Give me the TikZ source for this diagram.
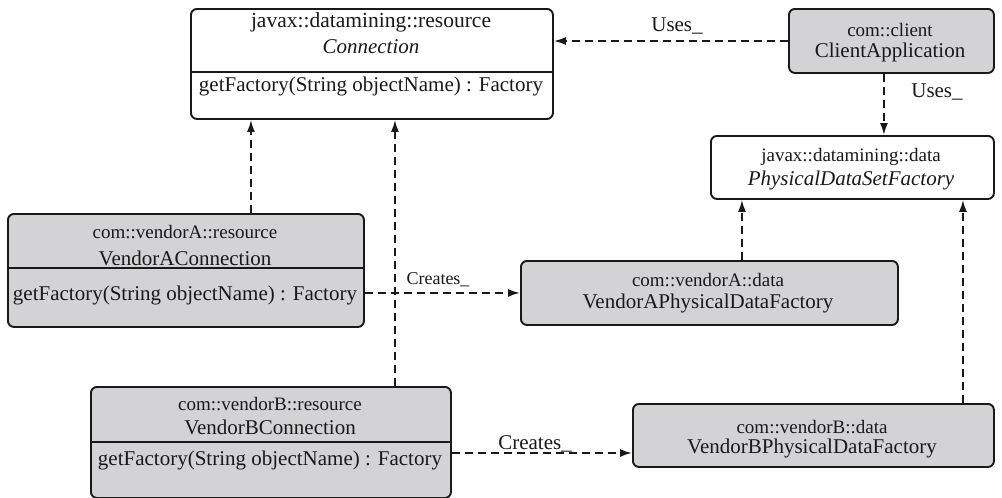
\documentclass[tikz,border=0pt]{standalone}
\usepackage{fontspec}
\setmainfont{Liberation Serif}
\usetikzlibrary{arrows.meta,calc}
\definecolor{boxgray}{RGB}{211,211,213}
\definecolor{edge}{RGB}{25,25,25}
\begin{document}
\begin{tikzpicture}[x=1pt,y=-1pt,
  cls/.style={draw=edge, line width=1.9pt, rounded corners=6pt, inner sep=0pt, anchor=north west},
  grayfill/.style={fill=boxgray},
  whitefill/.style={fill=white},
  pkg/.style={inner sep=0pt, font=\fontsize{19}{22}\selectfont, text=edge},
  big/.style={inner sep=0pt, font=\fontsize{21}{24}\selectfont, text=edge},
  lbl/.style={inner sep=0pt, font=\fontsize{21}{24}\selectfont, text=edge},
  divline/.style={draw=edge, line width=1.9pt},
  dep/.style={draw=edge, line width=1.8pt, dash pattern=on 8pt off 5pt, -{Latex[length=12pt,width=8pt]}}
]
\useasboundingbox (0,0) rectangle (1002,498);

% boxes
\node[cls,whitefill,minimum width=362pt,minimum height=110pt] (conn) at (190,8) {};
\node[cls,grayfill,minimum width=205pt,minimum height=64pt] (client) at (788,8) {};
\node[cls,whitefill,minimum width=283pt,minimum height=63pt] (pdsf) at (710,135) {};
\node[cls,grayfill,minimum width=356pt,minimum height=113pt] (va) at (7,213) {};
\node[cls,grayfill,minimum width=377pt,minimum height=64pt] (vap) at (520,260) {};
\node[cls,grayfill,minimum width=360pt,minimum height=111pt] (vb) at (90,386) {};
\node[cls,grayfill,minimum width=361pt,minimum height=63pt] (vbp) at (632,403) {};

% dividers
\draw[divline] ([yshift=-64pt]conn.north west) -- ([yshift=-64pt]conn.north east);
\draw[divline] ([yshift=-55pt]va.north west) -- ([yshift=-55pt]va.north east);
\draw[divline] ([yshift=-56pt]vb.north west) -- ([yshift=-56pt]vb.north east);

% texts
\node[big, font=\fontsize{21.5}{24}\selectfont] (connpkg) at (371,22) {javax::datamining::resource};
\node[big, font=\fontsize{21}{24}\selectfont\itshape] (connname) at (371,47) {Connection};
\node[big] (connop) at (371,86) {getFactory(String objectName) : Factory};

\node[pkg] (clientpkg) at (890,30) {com::client};
\node[big] (clientname) at (890,52) {ClientApplication};

\node[pkg] (pdsfpkg) at (851,157) {javax::datamining::data};
\node[big, font=\fontsize{21}{24}\selectfont\itshape] (pdsfname) at (851,180) {PhysicalDataSetFactory};

\node[pkg] (vapkg) at (185,232) {com::vendorA::resource};
\node[big] (vaname) at (185,258) {VendorAConnection};
\node[big] (vaop) at (185,295) {getFactory(String objectName) : Factory};

\node[pkg] (vappkg) at (708,280) {com::vendorA::data};
\node[big] (vapname) at (708,303) {VendorAPhysicalDataFactory};

\node[pkg] (vbpkg) at (270,404) {com::vendorB::resource};
\node[big] (vbname) at (270,427) {VendorBConnection};
\node[big] (vbop) at (270,460) {getFactory(String objectName) : Factory};

\node[pkg] (vbppkg) at (812,427) {com::vendorB::data};
\node[big] (vbpname) at (812,448) {VendorBPhysicalDataFactory};

% connectors
\draw[dep] ([yshift=-33pt]client.north west) -- ([yshift=-33pt]client.north west -| conn.east);
\draw[dep] ([xshift=-7.5pt]client.south) -- ([xshift=-7.5pt]client.south |- pdsf.north);
\draw[dep] ([xshift=65pt]va.north) -- ([xshift=65pt]va.north |- conn.south);
\draw[dep] ([xshift=124pt]vb.north) -- ([xshift=124pt]vb.north |- conn.south);
\draw[dep] (vap.west -| va.east) -- (vap.west);
\draw[dep] ([yshift=-67pt]vb.north east) -- ([yshift=-67pt]vb.north east -| vbp.west);
\draw[dep] ([xshift=32.5pt]vap.north) -- ([xshift=32.5pt]vap.north |- pdsf.south);
\draw[dep] ([xshift=149.5pt]vbp.north) -- ([xshift=149.5pt]vbp.north |- pdsf.south);

% labels
\node[lbl] (uses1) at (677,26) {Uses\_};
\node[lbl] (uses2) at (937,92) {Uses\_};
\node[lbl, font=\fontsize{18}{21}\selectfont] (creates1) at (438,280) {Creates\_};
\node[lbl] (creates2) at (535,444) {Creates\_};
\end{tikzpicture}
\end{document}
